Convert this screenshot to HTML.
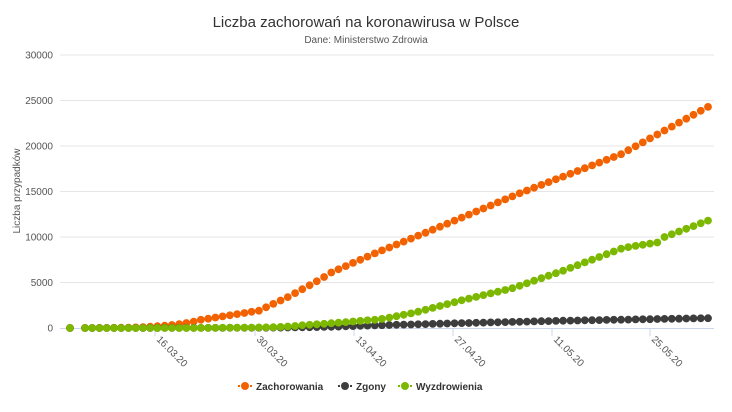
<!DOCTYPE html>
<html><head><meta charset="utf-8"><style>
body{margin:0;background:#fff;font-family:"Liberation Sans",sans-serif;}
svg text{font-family:"Liberation Sans",sans-serif;}
</style></head><body>
<svg id="c" width="732" height="407" xmlns="http://www.w3.org/2000/svg">
<rect width="732" height="407" fill="#fff"/>
<text x="366" y="27" text-anchor="middle" font-size="15" fill="#333">Liczba zachorowań na koronawirusa w Polsce</text>
<text x="366" y="43" text-anchor="middle" font-size="10" fill="#555">Dane: Ministerstwo Zdrowia</text>
<text transform="translate(20,191) rotate(-90)" text-anchor="middle" font-size="10" fill="#555">Liczba przypadków</text>
<g id="grid"></g>
<g id="pts"></g>
<g font-size="10" font-weight="bold" fill="#333">
<line x1="238" y1="386" x2="252" y2="386" stroke="#f26200" stroke-width="2" stroke-dasharray="2,2"/><circle cx="245" cy="386" r="4" fill="#f26200"/><text x="256" y="390">Zachorowania</text>
<line x1="338" y1="386" x2="352" y2="386" stroke="#3d3d3d" stroke-width="2" stroke-dasharray="2,2"/><circle cx="345" cy="386" r="4" fill="#3d3d3d"/><text x="356" y="390">Zgony</text>
<line x1="398" y1="386" x2="412" y2="386" stroke="#7cb800" stroke-width="2" stroke-dasharray="2,2"/><circle cx="405" cy="386" r="4" fill="#7cb800"/><text x="416" y="390">Wyzdrowienia</text>
</g>
</svg>
<script>
var NS="http://www.w3.org/2000/svg";
function el(p,t,a,txt){var e=document.createElementNS(NS,t);for(var k in a)e.setAttribute(k,a[k]);if(txt)e.textContent=txt;p.appendChild(e);return e;}
var g=document.getElementById('grid'),P=document.getElementById('pts');
function Y(v){return 328-v*273/30000;}
function X(d){return d<6?70:85+(d-6)*623/86;}
for(var i=0;i<=6;i++){var y=Y(i*5000);
 if(i>0)el(g,'line',{x1:60,x2:714,y1:y,y2:y,stroke:'#e6e6e6','stroke-width':1});
 el(g,'text',{x:53,y:y+3.5,'text-anchor':'end','font-size':10,fill:'#555'},String(i*5000));}
el(g,'line',{x1:60,x2:714,y1:328.5,y2:328.5,stroke:'#ccd6eb','stroke-width':1});
var labs=[[155,'16.03.20'],[255,'30.03.20'],[354,'13.04.20'],[453,'27.04.20'],[552,'11.05.20'],[650,'25.05.20']];
labs.forEach(function(l){var x=l[0];el(g,'line',{x1:x,x2:x,y1:328,y2:336,stroke:'#ccd6eb'});
 el(g,'text',{transform:'translate('+(x+1)+',340) rotate(45)','font-size':10,fill:'#555'},l[1]);});
function interp(k,d){if(d<=k[0][0])return k[0][1];for(var i=1;i<k.length;i++){if(d<=k[i][0]){var a=k[i-1],b=k[i];
 if(a[1]>0&&b[1]>0&&b[1]/a[1]>3){return a[1]*Math.pow(b[1]/a[1],(d-a[0])/(b[0]-a[0]));}
 return a[1]+(b[1]-a[1])*(d-a[0])/(b[0]-a[0]);}}return k[k.length-1][1];}
var cases=[[4,1],[10,22],[16,200],[22,900],[30,1900],[34,3400],[38.4,5300],[40,6100],[46,8200],[54,10800],[66,14800],[80,19100],[86,21700],[92,24300]];
var deaths=[[4,0],[12,0],[16,5],[30,30],[44,245],[58,535],[72,800],[86,1000],[92,1080]];
var rec=[[4,0],[20,0],[30,50],[36,300],[39.8,510],[46.7,950],[51.3,1650],[58.2,3080],[65.1,4390],[72,6300],[80.3,8800],[85,9400],[86,10000],[92,11800]];
var days=[4];for(var d=6;d<=92;d++)days.push(d);
[[cases,'#f26200'],[deaths,'#3d3d3d'],[rec,'#7cb800']].forEach(function(s){
 days.forEach(function(d){var v=interp(s[0],d);if(s[0]===deaths&&d<12)v=0;
 el(P,'circle',{cx:X(d).toFixed(1),cy:Y(v).toFixed(1),r:3.9,fill:s[1]});});});
</script>
</body></html>
